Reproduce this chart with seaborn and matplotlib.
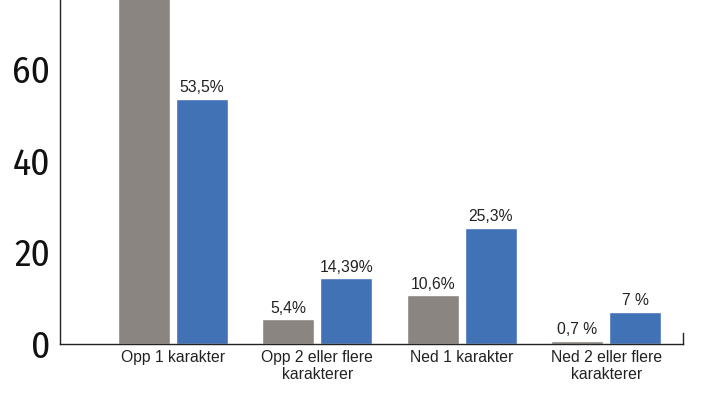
import matplotlib
matplotlib.use("Agg")
import matplotlib.pyplot as plt
import numpy as np
import pandas as pd
import seaborn as sns

# data
categories = [
    "Opp 1 karakter",
    "Opp 2 eller flere\nkarakterer",
    "Ned 1 karakter",
    "Ned 2 eller flere\nkarakterer",
]
series = ["Grå", "Blå"]
grey_values = [83.3, 5.4, 10.6, 0.7]
blue_values = [53.5, 14.39, 25.3, 7.0]
grey_labels = ["", "5,4%", "10,6%", "0,7 %"]
blue_labels = ["53,5%", "14,39%", "25,3%", "7 %"]
y_ticks = [0, 20, 40, 60]

colors = ["#8a8580", "#4272b6"]

df = pd.DataFrame(
    {
        "kategori": categories * 2,
        "serie": [series[0]] * len(categories) + [series[1]] * len(categories),
        "verdi": grey_values + blue_values,
    }
)

sns.set_style("white")
plt.rcParams["font.family"] = ["Liberation Sans", "DejaVu Sans"]

fig = plt.figure(figsize=(7.06, 3.98), dpi=100)
ax = fig.add_axes([0.085, 0.1357, 0.882, 0.8643])

sns.barplot(
    data=df,
    x="kategori",
    y="verdi",
    hue="serie",
    palette=colors,
    width=0.8,
    gap=0.1,
    saturation=1,
    legend=False,
    ax=ax,
)

for container, labels in zip(ax.containers, [grey_labels, blue_labels]):
    ax.bar_label(container, labels=labels, padding=2.5, fontsize=11.3, color="#222222")

ax.set_ylim(0, 75)
ax.set_xlim(-0.78, 3.53)
ax.set_yticks(y_ticks)
ax.set_yticklabels([str(t) for t in y_ticks],
                   family=["Fira Sans Condensed", "PT Sans Narrow", "DejaVu Sans"],
                   fontweight="normal", fontsize=27, color="#111111")
ax.tick_params(axis="y", direction="in", length=9.5, width=1, color="#222222", pad=7)
ax.tick_params(axis="x", length=0, labelsize=11.3, pad=4, labelcolor="#222222")
ax.set_xlabel("")
ax.set_ylabel("")

ax.spines["top"].set_visible(False)
for side in ["left", "bottom", "right"]:
    ax.spines[side].set_color("#222222")
    ax.spines[side].set_linewidth(1)
ax.spines["right"].set_bounds(0, 2.5)

fig.savefig("out.png", dpi=100)
